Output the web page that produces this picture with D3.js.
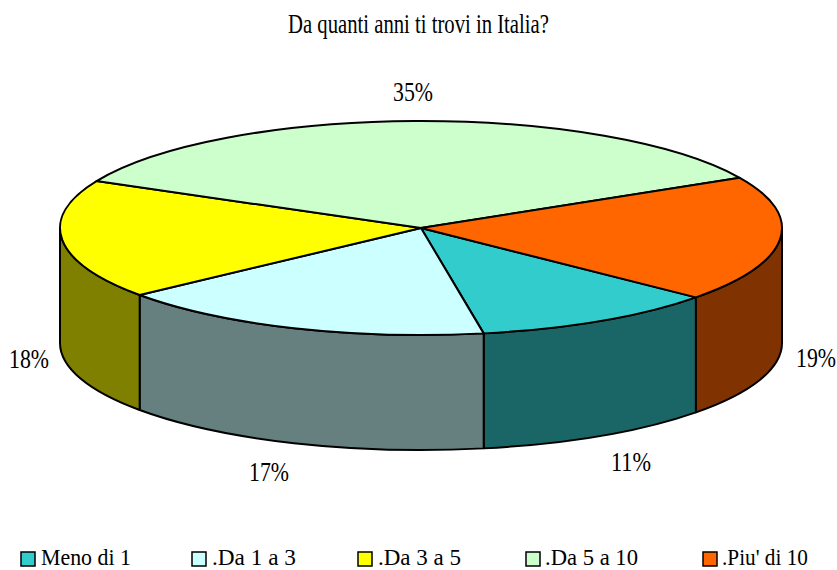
<!DOCTYPE html>
<html>
<head>
<meta charset="utf-8">
<script src="https://cdn.jsdelivr.net/npm/d3@7"></script>
<style>
  html, body { margin: 0; padding: 0; background: #fff; }
  text { font-family: "Liberation Serif", serif; fill: #000; }
</style>
</head>
<body>
<div id="chart"></div>
<script>
// Chart data
const categories = ["Meno di 1", ".Da 1 a 3", ".Da 3 a 5", ".Da 5 a 10", ".Piu' di 10"];
const values = [11, 17, 18, 35, 19];
const topColors = ["#33cccc", "#ccffff", "#ffff00", "#ccffcc", "#ff6600"];
const wallColors = ["#1a6666", "#668080", "#808000", "#668066", "#803300"];
const title = "Da quanti anni ti trovi in Italia?";

// Layout of the page
const width = 837, height = 570;
const cx = 421, cy = 228, rx = 361, ry = 107, depth = 115;
const startAngle = 130.4 * Math.PI / 180;

const svg = d3.select("#chart").append("svg")
    .attr("width", width)
    .attr("height", height)
    .style("display", "block");

// Slices go clockwise from the teal one, angles are on the flattened ellipse
const slices = d3.pie().sort(null)
    .startAngle(startAngle)
    .endAngle(startAngle + 2 * Math.PI)(values);

const px = a => cx + rx * Math.sin(a);
const py = a => cy - ry * Math.cos(a);

// Only the part of each slice between 90 and 270 degrees shows a wall
function wallPath(d) {
    const lo = Math.PI / 2, hi = 3 * Math.PI / 2;
    const ranges = [[d.startAngle, d.endAngle], [d.startAngle - 2 * Math.PI, d.endAngle - 2 * Math.PI]];
    let out = "";
    ranges.forEach(([s, e]) => {
        const a0 = Math.max(s, lo), a1 = Math.min(e, hi);
        if (a1 <= a0) return;
        const large = a1 - a0 > Math.PI ? 1 : 0;
        out += `M${px(a0)},${py(a0)}` +
               `A${rx},${ry} 0 ${large} 1 ${px(a1)},${py(a1)}` +
               `L${px(a1)},${py(a1) + depth}` +
               `A${rx},${ry} 0 ${large} 0 ${px(a0)},${py(a0) + depth}Z`;
    });
    return out;
}

function topPath(d) {
    const large = d.endAngle - d.startAngle > Math.PI ? 1 : 0;
    return `M${cx},${cy}L${px(d.startAngle)},${py(d.startAngle)}` +
           `A${rx},${ry} 0 ${large} 1 ${px(d.endAngle)},${py(d.endAngle)}Z`;
}

const pie = svg.append("g")
    .attr("stroke", "#000")
    .attr("stroke-width", 2)
    .attr("stroke-linejoin", "round");

pie.selectAll("path.wall")
    .data(slices)
    .enter().append("path")
    .attr("class", "wall")
    .attr("d", wallPath)
    .attr("fill", d => wallColors[d.index]);

pie.selectAll("path.top")
    .data(slices)
    .enter().append("path")
    .attr("class", "top")
    .attr("d", topPath)
    .attr("fill", d => topColors[d.index]);

// Squeeze a label to the width it has in the original
function fitted(sel, x, y, w, size) {
    sel.attr("font-size", size);
    const natural = sel.node().getComputedTextLength();
    return sel.attr("transform", `translate(${x},${y}) scale(${w / natural},1)`);
}

fitted(svg.append("text").text(title), 288, 33, 261, 27);

// Percent labels, in the same order as the values
const labelSpots = [[611, 471], [249, 481], [9, 368], [393, 101], [796, 367]];

svg.selectAll("text.pct")
    .data(values)
    .enter().append("text")
    .attr("class", "pct")
    .text(d => d + "%")
    .each(function (d, i) {
        fitted(d3.select(this), labelSpots[i][0], labelSpots[i][1], 40, 27);
    });

// Legend along the bottom
const legendX = [21, 192, 358, 526, 703];
const legendTextX = [41, 212, 378, 545, 722];
const legendTextW = [90, 84, 83, 93, 86];

const legend = svg.selectAll("g.legend")
    .data(categories)
    .enter().append("g")
    .attr("class", "legend");

legend.append("rect")
    .attr("x", (d, i) => legendX[i])
    .attr("y", 552)
    .attr("width", 14)
    .attr("height", 14)
    .attr("fill", (d, i) => topColors[i])
    .attr("stroke", "#000")
    .attr("stroke-width", 1.5);

legend.append("text")
    .text(d => d)
    .each(function (d, i) {
        fitted(d3.select(this), legendTextX[i], 564.7, legendTextW[i], 24);
    });
</script>
</body>
</html>
